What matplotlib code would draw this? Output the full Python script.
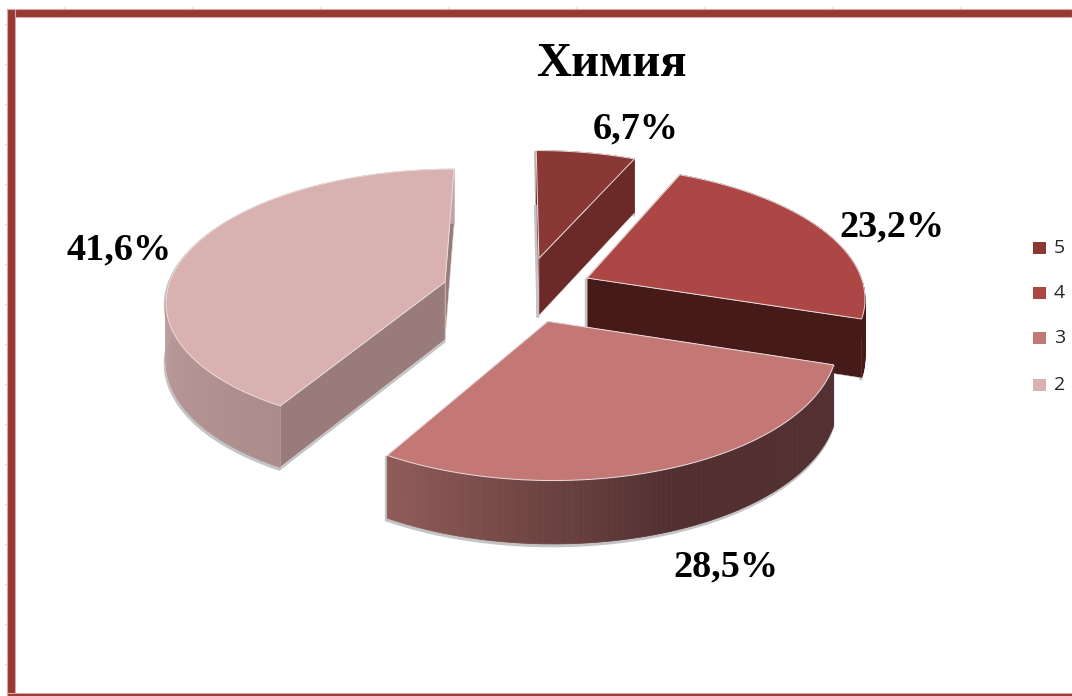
#!/usr/bin/env python3
"""Химия — объёмная круговая диаграмма с выдвинутыми секторами."""

import matplotlib

matplotlib.use("Agg")

import matplotlib.pyplot as plt
import numpy as np
from matplotlib.colors import LinearSegmentedColormap
from matplotlib.patches import Polygon, Rectangle

TITLE = "Химия"
GRADES = ["5", "4", "3", "2"]
SHARES = [6.7, 23.2, 28.5, 41.6]

# стиль секторов
TOP_COLORS = ["#8a3836", "#ad4745", "#c37876", "#d9b1b1"]
CUT_COLORS = ["#6b2a28", "#471a1a", "#533032", "#997b7b"]
SIDE_COLORS = [
    ["#6b2a28", "#6b2a28"],
    ["#471a1a", "#471a1a"],
    ["#533032", "#523030", "#905c5a"],
    ["#ab8c8a", "#c4a2a2", "#c4a2a2"],
]
# сдвиг секторов в плоскости диаграммы
EXPLODE_X = [0.089, 0.263, 0.115, -0.254]
EXPLODE_Y = [0.237, 0.078, -0.25, 0.047]

LABEL_X = [636, 892, 726, 119]
LABEL_Y = [129, 227, 567, 250]
LEGEND_Y = [248, 293, 338, 385]

CX, CY = 515, 288
SCALE_X, SCALE_Y = 277, 129
PERSPECTIVE = 0.13
DEPTH = 58
ANGLE_STEP = 1.0


def project(x: np.ndarray, y: np.ndarray, dx: float, dy: float):
    """Плоскость диаграммы -> пиксели картинки; возвращает x, y, толщину."""
    f = 1 / (1 + PERSPECTIVE * (y + dy))
    return CX + SCALE_X * (x + dx) * f, CY - SCALE_Y * (y + dy) * f, DEPTH * np.sqrt(f)


def add_poly(ax, xs, ys, color, zorder, edge="none", lw=0.0):
    ax.add_patch(
        Polygon(
            np.column_stack([xs, ys]),
            closed=True,
            facecolor=color,
            edgecolor=edge,
            linewidth=lw,
            zorder=zorder,
        )
    )


def draw_wedge(ax, start, end, dx, dy, top, cut, side, zorder):
    angles = np.radians(np.arange(start, end + ANGLE_STEP / 2, ANGLE_STEP))
    arc_x, arc_y, arc_d = project(np.sin(angles), np.cos(angles), dx, dy)
    ax_x, ax_y, ax_d = project(np.array([0.0]), np.array([0.0]), dx, dy)

    top_x = np.r_[ax_x, arc_x]
    top_y = np.r_[ax_y, arc_y]

    # тень по контуру
    sil_x = np.r_[top_x, arc_x[::-1], ax_x]
    sil_y = np.r_[top_y, (arc_y + arc_d)[::-1], ax_y + ax_d]
    add_poly(ax, sil_x - 1, sil_y + 2, "#b5b5b5", zorder, "#c4c4c4", 2.0)

    # грани разреза: дальняя, потом ближняя
    edges = sorted([0, -1], key=lambda i: -np.cos(angles[i]))
    for i in edges:
        add_poly(
            ax,
            [ax_x[0], arc_x[i], arc_x[i], ax_x[0]],
            [ax_y[0], arc_y[i], arc_y[i] + arc_d[i], ax_y[0] + ax_d[0]],
            cut,
            zorder + 0.1,
            "#e6d6d6",
            0.35,
        )

    # боковая поверхность с градиентом
    cmap = LinearSegmentedColormap.from_list("side", side)
    for k in range(len(angles) - 1):
        color = cmap(k / max(len(angles) - 2, 1))
        add_poly(
            ax,
            [arc_x[k], arc_x[k + 1], arc_x[k + 1], arc_x[k]],
            [arc_y[k], arc_y[k + 1], arc_y[k + 1] + arc_d[k + 1], arc_y[k] + arc_d[k]],
            color,
            zorder + 0.2,
            color,
            0.5,
        )

    add_poly(ax, top_x, top_y, top, zorder + 0.3, "#eadcdc", 0.7)


fig = plt.figure(figsize=(10.72, 6.96), dpi=100)
ax = fig.add_axes([0, 0, 1, 1])
ax.set_xlim(0, 1072)
ax.set_ylim(696, 0)
ax.axis("off")

# рамка области диаграммы
for x0, y0, w, h in [(7, 9, 1065, 8), (7, 9, 8, 687), (7, 693, 1065, 3)]:
    ax.add_patch(Rectangle((x0, y0), w, h, facecolor="#983833", edgecolor="#d9a8a5", linewidth=0.8, zorder=1))
for tick_y in range(24, 680, 40):
    ax.plot([5, 7], [tick_y, tick_y], color="#e0e0e0", linewidth=1.0, zorder=0.5)
for tick_x in range(64, 1072, 128):
    ax.plot([tick_x, tick_x], [7, 9], color="#e0e0e0", linewidth=1.0, zorder=0.5)

bounds = np.r_[0, np.cumsum(SHARES)] / np.sum(SHARES) * 360

# порядок отрисовки: сзади вперёд
order = [0, 1, 3, 2]
for z, i in enumerate(order):
    draw_wedge(
        ax,
        bounds[i],
        bounds[i + 1],
        EXPLODE_X[i],
        EXPLODE_Y[i],
        TOP_COLORS[i],
        CUT_COLORS[i],
        SIDE_COLORS[i],
        2 + z,
    )

serif = "Liberation Serif"
ax.text(611, 64, TITLE, family=serif, fontsize=35, fontweight="bold", ha="center", va="center", zorder=10)
for share, lx, ly in zip(SHARES, LABEL_X, LABEL_Y):
    ax.text(
        lx,
        ly,
        f"{share:.1f}%".replace(".", ","),
        family=serif,
        fontsize=27.5,
        fontweight="bold",
        ha="center",
        va="center",
        zorder=10,
    )

for grade, color, ly in zip(GRADES, TOP_COLORS, LEGEND_Y):
    ax.add_patch(Rectangle((1033, ly - 6), 13, 12, facecolor=color, edgecolor="none", zorder=10))
    ax.text(1054, ly, grade, family="Open Sans", fontsize=14, color="#262626", ha="left", va="center", zorder=10)

fig.savefig("out.png", dpi=100)
plt.close(fig)
